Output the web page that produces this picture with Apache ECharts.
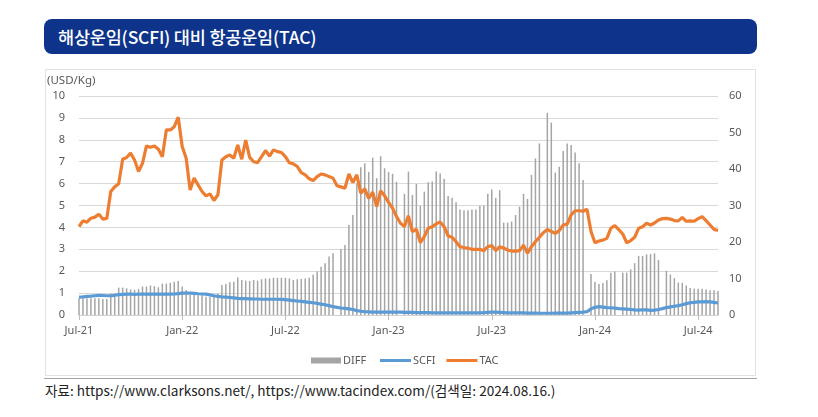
<!DOCTYPE html>
<html>
<head>
<meta charset="utf-8">
<script src="https://cdn.jsdelivr.net/npm/echarts/dist/echarts.min.js"></script>
<style>
  html, body { margin:0; padding:0; background:#fff; }
  body { width:818px; height:417px; overflow:hidden; position:relative; font-family:'Noto Sans CJK KR','Noto Sans',sans-serif; }
  #titlebar { position:absolute; left:44px; top:19px; width:713px; height:35px; background:#0d348a; border-radius:8px; }
  #titletext { position:absolute; left:58px; top:19px; height:35px; line-height:35px; color:#fff; font-size:17.5px; font-weight:500; white-space:nowrap; transform-origin:left center; transform:scaleX(1.0); letter-spacing:-0.2px; }
  #frame { position:absolute; left:45px; top:69px; width:709px; height:305px; border:1px solid #e2e2e2; }
  #rule { position:absolute; left:44px; top:378px; width:713px; height:0; border-top:1.5px solid #a6a6a6; }
  #source { position:absolute; left:45px; top:380px; font-size:13.6px; color:#222; line-height:20px; white-space:nowrap; transform-origin:left center; transform:scaleX(1.0); }
  #chart { position:absolute; left:0; top:0; width:818px; height:417px; }
</style>
</head>
<body>
<div id="titlebar"></div>
<div id="titletext">해상운임(SCFI) 대비 항공운임(TAC)</div>
<div id="frame"></div>
<div id="rule"></div>
<div id="source">자료: https://www.clarksons.net/, https://www.tacindex.com/(검색일: 2024.08.16.)</div>
<div id="chart"></div>
<script>
// ---- data (weekly, first week of Jul-2021 .. Aug-2024) ----
const startDate = '2021-07-02';
const tickIndex = [0, 26, 52, 78, 104, 130, 156];
const tickLabels = ['Jul-21', 'Jan-22', 'Jul-22', 'Jan-23', 'Jul-23', 'Jan-24', 'Jul-24'];

const tac = [
  4.04, 4.30, 4.24, 4.42, 4.47, 4.60, 4.38, 4.41, 5.64, 5.85,
  5.99, 7.11, 7.19, 7.39, 7.08, 6.55, 6.93, 7.72, 7.66, 7.72,
  7.57, 7.23, 8.45, 8.45, 8.60, 9.03, 7.69, 7.16, 5.71, 6.25,
  5.94, 5.64, 5.44, 5.53, 5.23, 5.49, 7.08, 7.23, 7.31, 7.16,
  7.77, 7.11, 7.99, 7.20, 7.00, 6.96, 7.23, 7.51, 7.26, 7.54,
  7.46, 7.42, 7.23, 6.95, 6.90, 6.78, 6.50, 6.40, 6.22, 6.14,
  6.32, 6.44, 6.40, 6.32, 6.25, 5.90, 5.85, 5.79, 6.44, 6.05,
  6.40, 5.56, 5.76, 5.33, 5.61, 4.95, 5.67, 5.44, 5.14, 4.88,
  4.50, 4.19, 4.04, 4.53, 3.81, 3.92, 3.31, 3.58, 3.96, 4.03,
  4.16, 4.25, 4.03, 3.61, 3.55, 3.35, 3.12, 3.08, 3.05, 3.00,
  3.00, 3.00, 2.94, 3.12, 3.17, 2.94, 3.12, 3.06, 2.97, 2.92,
  2.92, 2.94, 3.19, 2.82, 3.12, 3.35, 3.55, 3.76, 3.91, 3.81,
  3.73, 3.85, 4.11, 4.15, 4.57, 4.76, 4.76, 4.74, 4.83, 3.81,
  3.30, 3.38, 3.42, 3.50, 3.96, 4.08, 3.90, 3.70, 3.30, 3.40,
  3.55, 3.96, 4.03, 4.19, 4.11, 4.20, 4.34, 4.40, 4.41, 4.38,
  4.31, 4.30, 4.46, 4.28, 4.30, 4.28, 4.40, 4.49, 4.31, 4.11,
  3.91, 3.86
];

const scfi = [
  0.82, 0.83, 0.85, 0.86, 0.88, 0.90, 0.89, 0.88, 0.88, 0.90,
  0.93, 0.94, 0.95, 0.95, 0.94, 0.95, 0.95, 0.95, 0.95, 0.95,
  0.95, 0.95, 0.95, 0.95, 0.96, 0.98, 1.00, 1.00, 1.00, 0.99,
  0.97, 0.96, 0.95, 0.92, 0.88, 0.85, 0.83, 0.82, 0.80, 0.78,
  0.76, 0.75, 0.75, 0.74, 0.73, 0.73, 0.72, 0.72, 0.72, 0.72,
  0.72, 0.71, 0.70, 0.68, 0.66, 0.64, 0.62, 0.60, 0.58, 0.56,
  0.53, 0.50, 0.47, 0.43, 0.38, 0.35, 0.32, 0.30, 0.28, 0.25,
  0.20, 0.17, 0.15, 0.14, 0.13, 0.13, 0.13, 0.13, 0.13, 0.13,
  0.13, 0.13, 0.12, 0.12, 0.12, 0.11, 0.11, 0.11, 0.11, 0.10,
  0.10, 0.10, 0.10, 0.10, 0.10, 0.10, 0.10, 0.10, 0.10, 0.10,
  0.10, 0.10, 0.11, 0.12, 0.13, 0.13, 0.12, 0.11, 0.10, 0.10,
  0.10, 0.10, 0.10, 0.09, 0.09, 0.09, 0.08, 0.08, 0.08, 0.08,
  0.09, 0.09, 0.09, 0.09, 0.10, 0.11, 0.12, 0.13, 0.15, 0.28,
  0.35, 0.38, 0.36, 0.34, 0.33, 0.31, 0.29, 0.28, 0.27, 0.25,
  0.23, 0.22, 0.24, 0.23, 0.21, 0.22, 0.25, 0.29, 0.34, 0.37,
  0.40, 0.43, 0.47, 0.52, 0.56, 0.58, 0.60, 0.60, 0.61, 0.60,
  0.58, 0.55
];

const diff = [
  4.6, 4.6, 4.6, 4.6, 4.6, 4.6, 4.4, 4.4, 5.9, 5.9,
  7.5, 7.5, 7.3, 7.0, 6.9, 7.1, 7.8, 7.8, 8.1, 7.9,
  7.6, 8.6, 8.6, 8.8, 9.1, 9.3, 7.8, 6.85, 5.5, 5.5,
  5.4, 5.4, 5.0, 5.0, 5.0, 5.9, 8.2, 8.5, 9.0, 9.1,
  10.3, 9.6, 9.4, 9.3, 9.6, 9.4, 9.8, 10.0, 10.0, 10.2,
  10.2, 10.2, 10.2, 10.0, 9.6, 9.8, 9.9, 10.0, 10.2, 11.0,
  11.9, 13.2, 14.2, 16.0, 16.9, null, 18.1, 19.2, 24.7, 27.4,
  36.0, 40.5, 41.6, 39.2, 43.1, 37.5, 43.5, 40.2, 39.2, 38.7,
  36.5, null, 33.2, 39.3, 32.9, 35.9, 29.9, 33.8, 36.4, 36.6,
  39.3, 38.8, 37.3, 32.6, 32.1, 30.9, 28.9, 28.7, 28.7, 28.9,
  28.9, 29.9, 30.0, 33.2, 34.4, 32.1, 34.2, 25.3, 25.3, 25.6,
  27.4, 29.7, 33.2, 31.8, 38.4, 42.9, 47.0, null, 55.4, 52.7,
  39.0, 40.6, 44.9, 47.0, 46.6, 44.5, 41.6, 37.0, null, 11.2,
  9.1, 8.5, 8.8, 9.5, 11.6, 11.9, null, 11.6, 11.6, 12.5,
  14.2, 16.2, 16.2, 16.6, 16.7, 16.9, 15.1, null, 12.1, 11.1,
  10.1, 8.9, 8.8, 8.1, 7.4, 7.2, 7.2, 7.2, 7.0, 6.8,
  6.8, 6.6
];

// weekly category labels
const categories = [];
(function () {
  const d0 = new Date(startDate + 'T00:00:00Z');
  for (let i = 0; i < tac.length; i++) {
    const d = new Date(d0.getTime() + i * 7 * 86400000);
    categories.push(d.toISOString().slice(0, 10));
  }
})();

const tickAt = function (idx) { return tickIndex.indexOf(idx) >= 0; };

const chart = echarts.init(document.getElementById('chart'), null, { renderer: 'canvas' });
const axisFont = { color: '#595959', fontSize: 11, fontFamily: "'Noto Sans','Noto Sans CJK KR',sans-serif" };
const legendText = { color: '#595959', fontSize: 11, fontFamily: "'Noto Sans',sans-serif", padding: [0, 0, 0, -3] };

chart.setOption({
  animation: false,
  backgroundColor: 'transparent',
  grid: { left: 79, right: 100, top: 96, bottom: 102, containLabel: false },
  graphic: [{
    type: 'text', left: 47, top: 75,
    style: { text: '(USD/Kg)', fill: '#595959', fontSize: 11.5, fontFamily: "'Noto Sans',sans-serif" }
  }],
  legend: [{
    data: [{ name: 'DIFF', icon: 'rect' }],
    left: 306, top: 350,
    itemWidth: 30, itemHeight: 6,
    textStyle: legendText
  }, {
    data: [{ name: 'SCFI', icon: 'rect' }, { name: 'TAC', icon: 'rect' }],
    left: 375, top: 350,
    itemWidth: 31, itemHeight: 3, itemGap: 11,
    textStyle: legendText
  }],
  xAxis: {
    type: 'category', boundaryGap: false, data: categories,
    axisLine: { lineStyle: { color: '#d0d0d0', width: 1 } },
    axisTick: { show: true, interval: function (i) { return tickAt(i); }, length: 5, lineStyle: { color: '#bfbfbf' } },
    axisLabel: Object.assign({
      interval: function (i) { return tickAt(i); },
      formatter: function (v, i) { const k = tickIndex.indexOf(i); return k >= 0 ? tickLabels[k] : ''; },
      margin: 10
    }, axisFont),
    splitLine: { show: false }
  },
  yAxis: [{
    type: 'value', min: 0, max: 10, interval: 1,
    axisLine: { show: false }, axisTick: { show: false },
    axisLabel: Object.assign({ margin: 14 }, axisFont),
    splitLine: { lineStyle: { color: '#d9d9d9', width: 1 } }
  }, {
    type: 'value', min: 0, max: 60, interval: 10,
    axisLine: { show: false }, axisTick: { show: false },
    axisLabel: Object.assign({ margin: 11 }, axisFont),
    splitLine: { show: false }
  }],
  series: [{
    name: 'DIFF', type: 'bar', yAxisIndex: 1, data: diff,
    barWidth: 1.5, itemStyle: { color: '#a5a5a5' }, z: 1
  }, {
    name: 'SCFI', type: 'line', yAxisIndex: 0, data: scfi,
    symbol: 'none', lineStyle: { color: '#5b9bd5', width: 3.2 }, itemStyle: { color: '#5b9bd5' }, z: 3
  }, {
    name: 'TAC', type: 'line', yAxisIndex: 0, data: tac,
    symbol: 'none', lineStyle: { color: '#ed7d31', width: 3.2 }, itemStyle: { color: '#ed7d31' }, z: 4
  }]
});
</script>
</body>
</html>
